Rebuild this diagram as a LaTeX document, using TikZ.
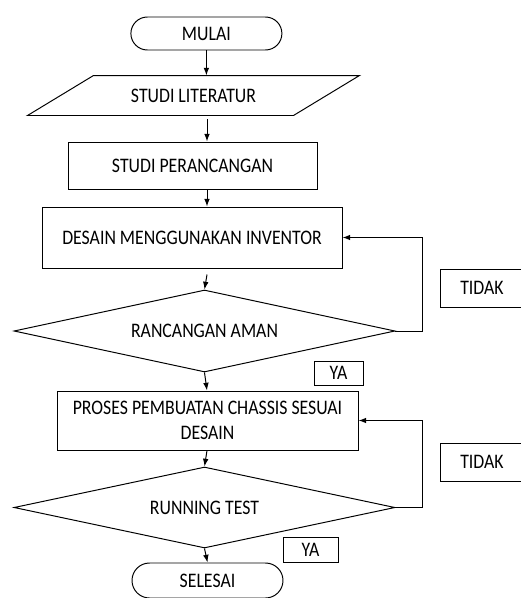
\documentclass[tikz,border=0pt]{standalone}
\usepackage{tikz}
\usepackage{fontspec}
\setmainfont{Carlito}[FakeStretch=0.86]
\usetikzlibrary{calc,
	positioning,
	shapes,
	shapes.geometric,
	shapes.misc,
	arrows.meta}
\tikzstyle{base}=[draw, line width=0.7pt, align=center, inner sep=0pt,
		font=\fontsize{14.7}{17.8}\selectfont]
\tikzstyle{term}=[base, rounded rectangle, minimum width=3.775cm]
\tikzstyle{io}=[base, draw=none, rectangle]
\tikzstyle{proc}=[base, rectangle]
\tikzstyle{dec}=[base, diamond, aspect=4.65]
\tikzstyle{lbl}=[base, rectangle]
\tikzstyle{flow}=[line width=0.7pt, -{Latex[length=5.5pt,width=4pt]}]

\begin{document}
\begin{tikzpicture}
                \useasboundingbox (0,0) rectangle (13.025,-14.95);
                \coordinate (spine) at (5.175,0);
                \coordinate (loop) at (10.55,0);
                \node[term, minimum height=0.825cm] (mulai) at (5.16,-0.8375) {MULAI};
                \node[io, minimum width=8.275cm, minimum height=0.975cm] (literatur) at (4.8375,-2.3875) {STUDI LITERATUR};
                \draw[line width=0.7pt] (literatur.south west) -- ($(literatur.south east)+(-1.65,0)$)
                    -- (literatur.north east) -- ($(literatur.north west)+(1.65,0)$) -- cycle;
                \node[proc, minimum width=6.225cm, minimum height=1.175cm] (perancangan) at (4.8125,-4.1375) {STUDI PERANCANGAN};
                \node[proc, minimum width=7.5cm, minimum height=1.525cm] (desain) at (4.8,-5.9375) {DESAIN MENGGUNAKAN INVENTOR};
                \node[dec, minimum width=9.525cm, minimum height=2.05cm] (aman) at (5.1125,-8.275) {RANCANGAN AMAN};
                \node[proc, minimum width=7.525cm, minimum height=1.475cm] (proses) at (5.1875,-10.5125) {PROSES PEMBUATAN CHASSIS SESUAI\\DESAIN};
                \node[dec, minimum width=9.525cm, minimum height=2.025cm] (test) at (5.1125,-12.6875) {RUNNING TEST};
                \node[term, minimum height=0.875cm] (selesai) at (5.1875,-14.5125) {SELESAI};
                \node[lbl, minimum width=2.1cm, minimum height=0.95cm] (tidakA) at (12.05,-7.2) {TIDAK};
                \node[lbl, minimum width=2.1cm, minimum height=0.95cm] (tidakB) at (12.05,-11.55) {TIDAK};
                \node[lbl, minimum width=1.225cm, minimum height=0.6cm] (yaA) at (8.4625,-9.325) {YA};
                \node[lbl, minimum width=1.375cm, minimum height=0.625cm] (yaB) at (7.7625,-13.7375) {YA};
                \draw[flow] (mulai.south) -- (mulai.south |- literatur.north);
                \draw[flow] ($(spine |- literatur.south)+(0,-0.1)$) -- (spine |- perancangan.north);
                \draw[flow] (spine |- perancangan.south) -- (spine |- desain.north);
                \draw[flow] ($(spine |- desain.south)+(0,-0.15)$) -- (aman.north);
                \draw[flow] (aman.south) -- (spine |- proses.north);
                \draw[flow] (aman.east) -- (aman.east -| loop) |- (desain.east);
                \draw[flow] (spine |- proses.south) -- (test.north);
                \draw[flow] (test.east) -- (test.east -| loop) |- (proses.east);
                \draw[flow] (test.south) -- (selesai.north);
            \end{tikzpicture}
\end{document}
